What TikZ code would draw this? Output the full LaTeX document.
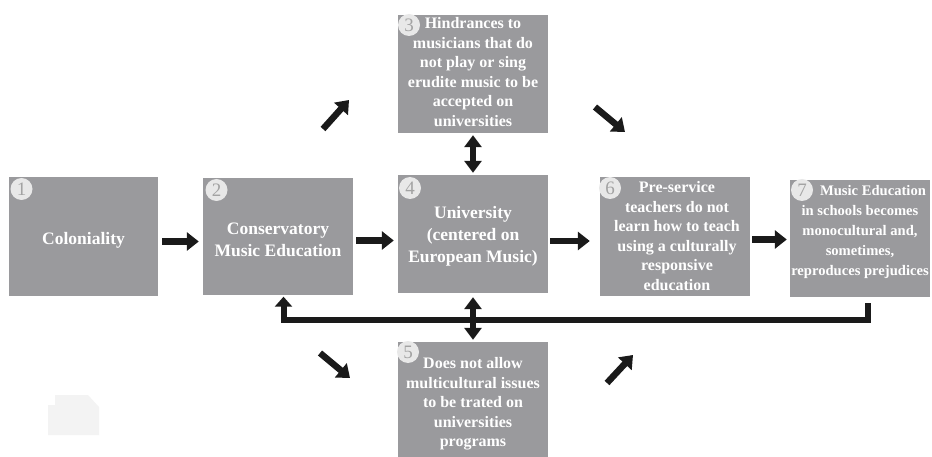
\documentclass[tikz,border=0pt]{standalone}
\usepackage{fontspec}
\setmainfont{Liberation Serif}
\usetikzlibrary{arrows.meta}
\definecolor{boxgray}{HTML}{9A9A9D}
\definecolor{numfill}{HTML}{E8E8E8}
\definecolor{numtext}{HTML}{A3A3A3}
\definecolor{ghost}{HTML}{F3F3F3}
\definecolor{arrowblack}{HTML}{1A1A1A}
\begin{document}
\begin{tikzpicture}[x=1pt,y=-1pt,
  box/.style={fill=boxgray, draw=none, inner sep=0pt},
  bigtxt/.style={text=white, align=center, font=\fontsize{17.5}{22}\selectfont\bfseries, inner sep=0pt},
  smalltxt/.style={text=white, align=center, font=\fontsize{16}{19.5}\selectfont\bfseries, inner sep=0pt},
  tinytxt/.style={text=white, align=center, font=\fontsize{14.6}{20}\selectfont\bfseries, inner sep=0pt},
  num/.style={circle, fill=numfill, minimum size=22pt, inner sep=0pt, text=numtext, font=\fontsize{19}{19}\selectfont},
  arr/.style={draw=arrowblack, line width=6.5pt, -{Triangle[length=12pt,width=18pt]}},
  darr/.style={draw=arrowblack, line width=6pt, {Triangle[length=12pt,width=17pt]}-{Triangle[length=12pt,width=17pt]}},
  fbline/.style={draw=arrowblack, line width=6pt, -{Triangle[length=10pt,width=17pt]}}
]
\useasboundingbox (0,0) rectangle (932,457);
\fill[white] (0,0) rectangle (932,457);

% faint ghost shape
\fill[ghost] (55,395) -- (88,395) -- (99,407) -- (99,435) -- (48,435) -- (48,405) -- (55,405) -- cycle;

% boxes
\node[box, minimum width=149pt, minimum height=119pt] (b1) at (83.5,236.5) {};
\node[box, minimum width=150pt, minimum height=117pt] (b2) at (278,236.5) {};
\node[box, minimum width=150pt, minimum height=118pt] (b3) at (473,74) {};
\node[box, minimum width=150pt, minimum height=118pt] (b4) at (473,234) {};
\node[box, minimum width=150pt, minimum height=118pt] (b5) at (473,401) {};
\node[box, minimum width=150pt, minimum height=119pt] (b6) at (675,236.5) {};
\node[box, minimum width=140pt, minimum height=117pt] (b7) at (860,238.5) {};

% texts
\node[bigtxt] (t1) at (83.5,240) {Coloniality};
\node[bigtxt] (t2) at (278,239.5) {Conservatory\\Music Education};
\node[bigtxt] (t4) at (473,236) {University\\(centered on\\European Music)};
\node[smalltxt] (t3) at (473,72) {Hindrances to\\musicians that do\\not play or sing\\erudite music to be\\accepted on\\universities};
\node[smalltxt] (t5) at (473,404) {Does not allow\\multicultural issues\\to be trated on\\universities\\programs};
\node[smalltxt] (t6) at (677,236) {Pre-service\\teachers do not\\learn how to teach\\using a culturally\\responsive\\education};
\node[tinytxt] (t7) at (860,232) {\hspace*{26pt}Music Education\\in schools becomes\\monocultural and,\\sometimes,\\reproduces prejudices};

% number circles
\node[num] (n1) at (21.5,189) {1};
\node[num] (n2) at (216.5,190) {2};
\node[num] (n3) at (409,25) {3};
\node[num] (n4) at (410,188) {4};
\node[num] (n5) at (408,352) {5};
\node[num] (n6) at (610,188) {6};
\node[num] (n7) at (802,190) {7};

% horizontal arrows
\draw[arr, shorten <=4pt, shorten >=4pt] ([yshift=-5pt]b1.east) -- ([yshift=-5pt]b1.east -| b2.west);
\draw[arr, shorten <=3pt, shorten >=4pt] ([yshift=-4pt]b2.east) -- ([yshift=-4pt]b2.east -| b4.west);
\draw[arr, shorten <=2pt, shorten >=10pt] ([yshift=-7pt]b4.east) -- ([yshift=-7pt]b4.east -| b6.west);
\draw[arr, shorten <=2pt, shorten >=3pt] ([yshift=-3pt]b6.east) -- ([yshift=-3pt]b6.east -| b7.west);

% diagonal arrows
\coordinate (d1s) at (323,129); \coordinate (d1e) at (349,100);
\coordinate (d2s) at (595,107); \coordinate (d2e) at (625,132);
\coordinate (d3s) at (320,353); \coordinate (d3e) at (350,378);
\coordinate (d4s) at (607,383); \coordinate (d4e) at (633,355);
\draw[arr] (d1s) -- (d1e);
\draw[arr] (d2s) -- (d2e);
\draw[arr] (d3s) -- (d3e);
\draw[arr] (d4s) -- (d4e);

% double arrows
\draw[darr, shorten <=2pt, shorten >=2pt] (b3.south) -- (b4.north);
\draw[darr, shorten <=4pt, shorten >=2pt] (b4.south) -- (b5.north);

% feedback line
\coordinate (fbs) at (868,303);
\coordinate (fbc) at (283.5,320);
\draw[fbline, shorten >=1.5pt] (fbs) |- (fbc) -- (fbc |- b2.south);
\end{tikzpicture}
\end{document}
